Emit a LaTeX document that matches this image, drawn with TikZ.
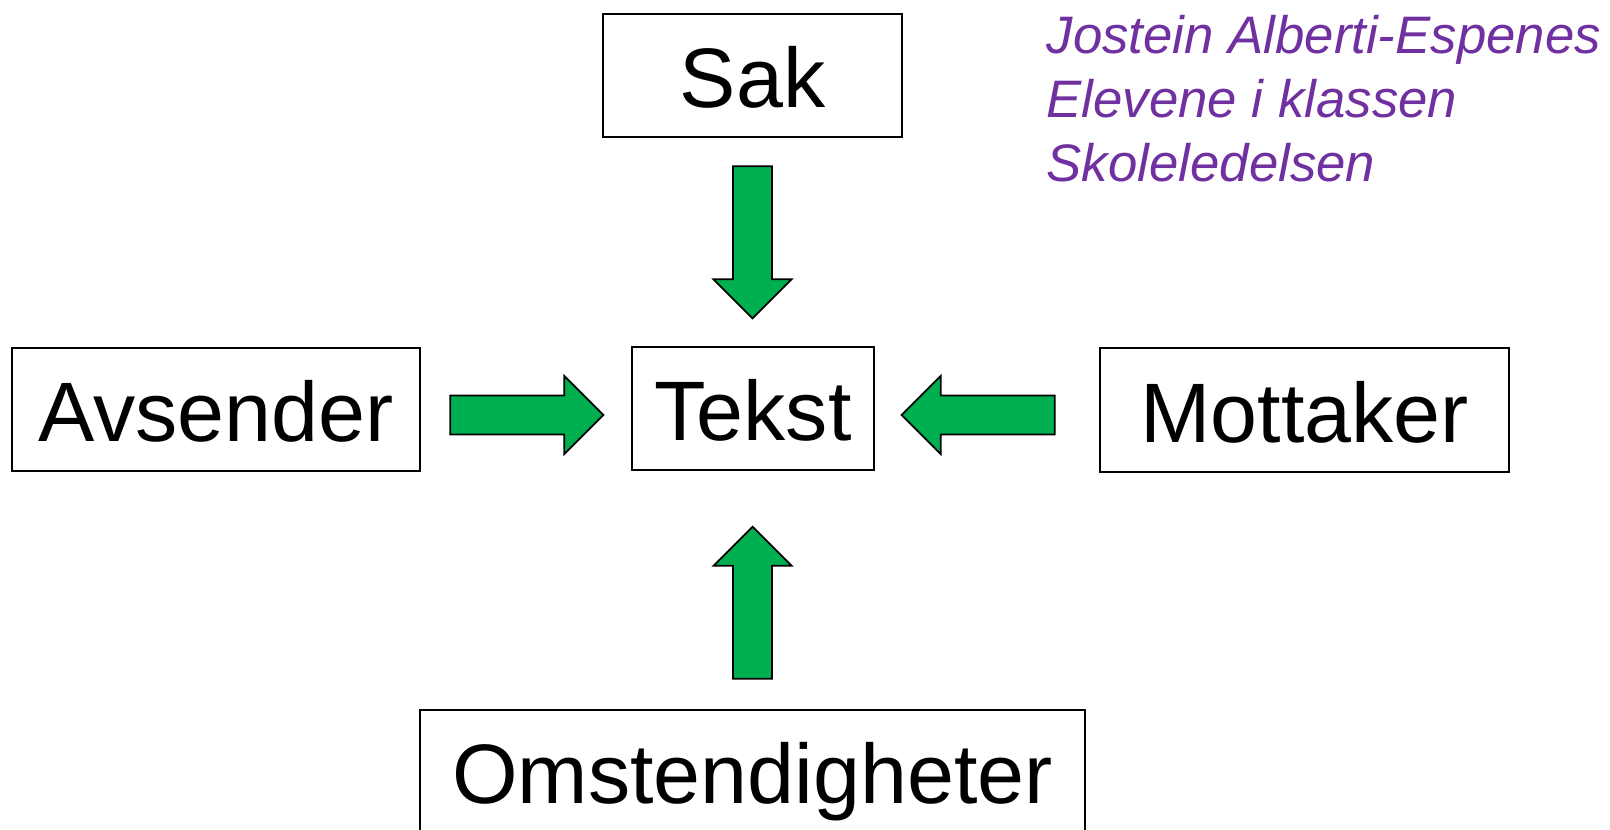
\documentclass[tikz,border=0pt]{standalone}
\usepackage{fontspec}
\setmainfont{Liberation Sans}
\usepackage{tikz}
\usetikzlibrary{calc}
\definecolor{arrgreen}{HTML}{00B050}
\definecolor{notepurple}{HTML}{7030A0}

% block arrow: tail coordinate, angle, length (px)
\newcommand{\greenarrow}[3]{%
  \draw[blockarrow, shift={(#1)}, rotate=#2]
    (0,-19.5) -- ({#3-39},-19.5) -- ({#3-39},-39) -- (#3,0)
    -- ({#3-39},39) -- ({#3-39},19.5) -- (0,19.5) -- cycle;
}

\tikzset{
  box/.style = {
    draw,
    line width = 0.7pt,
    inner sep = 0pt,
    text height = 18.2pt,
    text depth = 0pt,
    font = \fontsize{24}{28}\selectfont
  },
  blockarrow/.style = {
    draw,
    fill = arrgreen,
    line width = 0.5pt,
    line join = miter
  }
}

\begin{document}
\begin{tikzpicture}[x=0.01cm, y=-0.01cm]
  \useasboundingbox (0,0) rectangle (1610,829);

  \node[box, minimum width=2.99cm, minimum height=1.23cm] (sak) at (752.5,75.5) {Sak};
  \node[box, minimum width=2.42cm, minimum height=1.23cm] (tekst) at (753,408.5) {Tekst};
  \node[box, minimum width=4.08cm, minimum height=1.23cm] (avsender) at (216,409.5) {Avsender};
  \node[box, minimum width=4.09cm, minimum height=1.24cm] (mottaker) at (1304.5,410) {Mottaker};
  \node[box, minimum width=6.65cm, minimum height=1.23cm] (omst) at (752.5,771.5) {Omstendigheter};

  \node[anchor=north west, inner sep=0pt, align=left, text=notepurple,
        font=\fontsize{15}{18.1}\selectfont\itshape] (roller) at (1046,15)
    {Jostein Alberti-Espenes\\Elevene i klassen\\Skoleledelsen};

  % arrow tails
  \coordinate (sakarr) at ($(sak.south)+(0,28)$);
  \coordinate (avsarr) at ($(avsender.east)+(29,5.5)$);
  \coordinate (motarr) at ($(mottaker.west)+(-44,5)$);
  \coordinate (omstarr) at ($(omst.north)+(0,-30)$);

  \greenarrow{sakarr}{-90}{152}
  \greenarrow{avsarr}{0}{153}
  \greenarrow{motarr}{180}{153}
  \greenarrow{omstarr}{90}{152}

\end{tikzpicture}
\end{document}
